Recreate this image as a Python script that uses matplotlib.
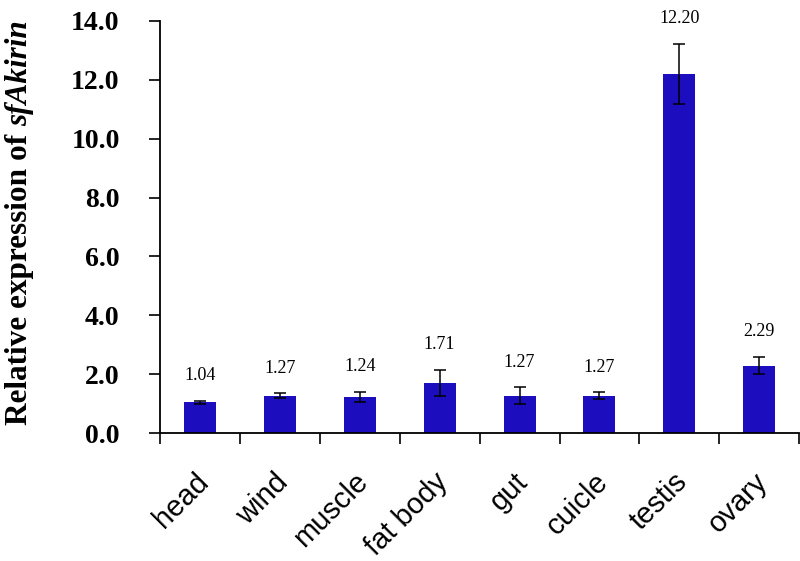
import matplotlib
matplotlib.use('Agg')
import matplotlib.pyplot as plt
from matplotlib.transforms import ScaledTranslation
import numpy as np

# Data
tissues = ['head', 'wind', 'muscle', 'fat body', 'gut', 'cuicle', 'testis', 'ovary']
expression = [1.04, 1.27, 1.24, 1.71, 1.27, 1.27, 12.20, 2.29]
errors = [0.06, 0.08, 0.17, 0.45, 0.29, 0.12, 1.02, 0.29]
value_labels = ['1.04', '1.27', '1.24', '1.71', '1.27', '1.27', '12.20', '2.29']
y_ticks = [0, 2, 4, 6, 8, 10, 12, 14]

BAR_COLOR = '#1c0dbe'
SERIF = 'Liberation Serif'
SANS = 'Liberation Sans'

fig = plt.figure(figsize=(8, 5.61), dpi=100)
ax = fig.add_axes([0.2, 0.228, 0.799, 0.7346])

x = np.arange(len(tissues))
ax.bar(x, expression, width=0.4, color=BAR_COLOR, zorder=2)
ax.errorbar(x, expression, yerr=errors, fmt='none', ecolor='black',
            elinewidth=1.1, capsize=4, capthick=1.1, zorder=3)

# value labels above the error bars
for xi, val, err, lab in zip(x, expression, errors, value_labels):
    ax.annotate(lab, (xi, val + err), xytext=(0, 12), textcoords='offset points',
                ha='center', va='bottom', fontsize=13, family=SERIF)

ax.set_xlim(-0.5, len(tissues) - 0.5)
ax.set_ylim(0, 14)

# y axis
ax.set_yticks(y_ticks)
ax.set_yticklabels([f'{v:.1f}' for v in y_ticks], fontsize=20,
                   fontweight='bold', family=SERIF)
ax.tick_params(axis='y', direction='out', length=8, width=1.2, pad=21)

# x axis: tick marks between categories, labels at centers
ax.set_xticks(x)
ax.set_xticklabels(tissues, rotation=45, ha='right', rotation_mode='anchor',
                   va='center', fontsize=21, family=SANS)
ax.tick_params(axis='x', which='major', length=0, pad=32)
ax.set_xticks(np.arange(len(tissues) + 1) - 0.5, minor=True)
ax.tick_params(axis='x', which='minor', direction='out', length=8, width=1.2)
for lab in ax.get_xticklabels():
    lab.set_transform(lab.get_transform() + ScaledTranslation(0.04, 0, fig.dpi_scale_trans))

for side in ['top', 'right']:
    ax.spines[side].set_visible(False)
for side in ['left', 'bottom']:
    ax.spines[side].set_linewidth(1.3)

# y label: bold upright part followed by bold italic gene name
fig.canvas.draw()
renderer = fig.canvas.get_renderer()
t1 = fig.text(0.024, (561 - 425) / 561, 'Relative expression of ', rotation=90,
              ha='left', va='center', rotation_mode='anchor', fontsize=22.5,
              fontweight='bold', family=SERIF)
bb = t1.get_window_extent(renderer)
top = fig.transFigure.inverted().transform((0, bb.y1))[1]
fig.text(0.024, top, 'sfAkirin', rotation=90, ha='left', va='center',
         rotation_mode='anchor', fontsize=22.5, fontweight='bold',
         fontstyle='italic', family=SERIF)

fig.savefig('out.png', dpi=100)
